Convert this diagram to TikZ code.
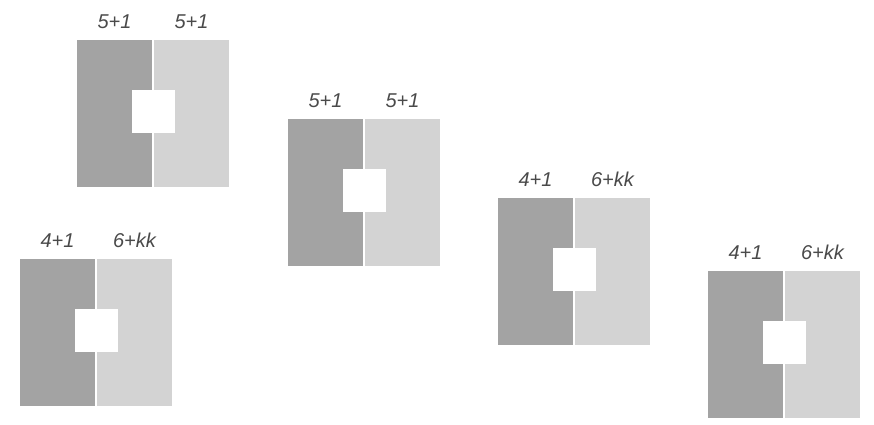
\documentclass[tikz,border=0pt]{standalone}
\usepackage{fontspec}
\usepackage{tikz}
\usepackage{xcolor}
\usetikzlibrary{positioning}
\setsansfont{Liberation Sans}
\definecolor{HalfDark}{HTML}{A3A3A3}
\definecolor{HalfLight}{HTML}{D3D3D3}
\definecolor{TagGray}{HTML}{4A4A4A}

\begin{document}
\begin{tikzpicture}[
    x=1pt, y=-1pt,
    half/.style={minimum width=75pt, minimum height=147pt, inner sep=0pt,
                 outer sep=0pt},
    darkhalf/.style={half, fill=HalfDark, anchor=north west},
    lighthalf/.style={half, fill=HalfLight},
    hole/.style={fill=white, minimum size=43pt, inner sep=0pt,
                 xshift=1pt, yshift=2pt},
    tag/.style={font=\sffamily\itshape\fontsize{20}{20}\selectfont,
                text=TagGray, inner sep=0pt, anchor=base}
]
\useasboundingbox (0,0) rectangle (874,424);

% top left pair
\node[darkhalf] (darkA) at (77,40) {};
\node[lighthalf, right=2pt of darkA] (lightA) {};
\node[hole] (holeA) at (darkA.east) {};
\node[tag] (tagdA) at ([yshift=12pt]darkA.north) {5+1};
\node[tag] (taglA) at ([yshift=12pt]lightA.north) {5+1};

% bottom left pair
\node[darkhalf] (darkB) at (20,259) {};
\node[lighthalf, right=2pt of darkB] (lightB) {};
\node[hole] (holeB) at (darkB.east) {};
\node[tag] (tagdB) at ([yshift=12pt]darkB.north) {4+1};
\node[tag] (taglB) at ([yshift=12pt]lightB.north) {6+kk};

% middle pair
\node[darkhalf] (darkC) at (288,119) {};
\node[lighthalf, right=2pt of darkC] (lightC) {};
\node[hole] (holeC) at (darkC.east) {};
\node[tag] (tagdC) at ([yshift=12pt]darkC.north) {5+1};
\node[tag] (taglC) at ([yshift=12pt]lightC.north) {5+1};

% fourth pair
\node[darkhalf] (darkD) at (498,198) {};
\node[lighthalf, right=2pt of darkD] (lightD) {};
\node[hole] (holeD) at (darkD.east) {};
\node[tag] (tagdD) at ([yshift=12pt]darkD.north) {4+1};
\node[tag] (taglD) at ([yshift=12pt]lightD.north) {6+kk};

% right pair
\node[darkhalf] (darkE) at (708,271) {};
\node[lighthalf, right=2pt of darkE] (lightE) {};
\node[hole] (holeE) at (darkE.east) {};
\node[tag] (tagdE) at ([yshift=12pt]darkE.north) {4+1};
\node[tag] (taglE) at ([yshift=12pt]lightE.north) {6+kk};
\end{tikzpicture}
\end{document}
